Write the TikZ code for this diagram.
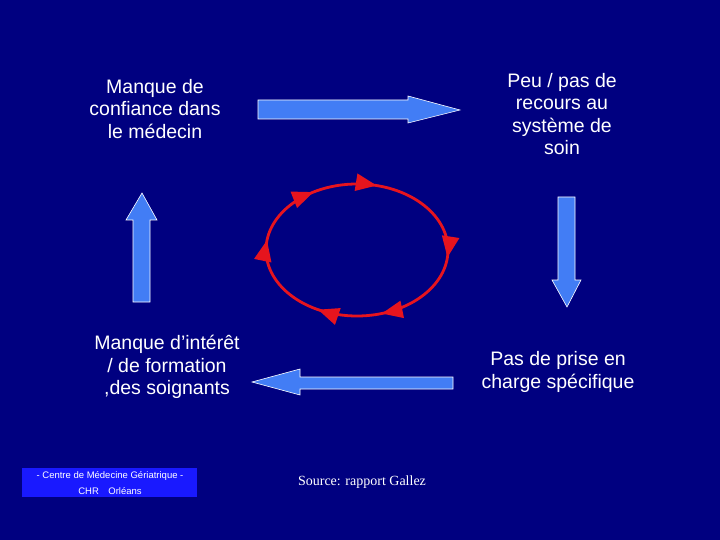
\documentclass[tikz,border=0pt]{standalone}
\usepackage{fontspec}
\setmainfont{Liberation Sans}
\newfontfamily\timesf{Liberation Serif}
\usetikzlibrary{decorations.markings,arrows.meta}
\definecolor{bg}{RGB}{0,0,128}
\definecolor{ab}{RGB}{66,125,245}
\definecolor{rd}{RGB}{230,20,30}
\begin{document}
\begin{tikzpicture}[x=1pt,y=-1pt,
  lbl/.style={text=white,align=center,font=\fontsize{19.5}{22.5}\selectfont},
  barrow/.style={fill=ab,draw=white,line width=0.6pt}]
\fill[bg] (0,0) rectangle (720,540);
\useasboundingbox (0,0) rectangle (720,540);
\node[lbl] (a) at (155,109) {Manque de\\confiance dans\\le médecin};
\node[lbl] (b) at (562,114) {Peu / pas de\\recours au\\système de\\soin};
\node[lbl] (c) at (167,367) {Manque d{\char39}intérêt\\/ de formation\\,des soignants};
\node[lbl] (d) at (558,372) {Pas de prise en\\charge spécifique};
\draw[barrow] (258,100) -- (408,100) -- (408,96) -- (460,110) -- (408,123) -- (408,119) -- (258,119) -- cycle;
\draw[barrow] (575,197) -- (575,280) -- (581,280) -- (567,307) -- (552,280) -- (558,280) -- (558,197) -- cycle;
\draw[barrow] (453,377) -- (300,377) -- (300,369) -- (252,382) -- (300,395) -- (300,389) -- (453,389) -- cycle;
\draw[barrow] (133,302) -- (133,220) -- (126,220) -- (142,193) -- (157,220) -- (150,220) -- (150,302) -- cycle;
\draw[rd,line width=2.8pt,postaction={decorate},decoration={markings,
  mark=at position 0.015 with {\arrow{Triangle[length=21pt,width=17pt]}},
  mark=at position 0.2 with {\arrow{Triangle[length=21pt,width=17pt]}},
  mark=at position 0.33 with {\arrow{Triangle[length=21pt,width=17pt]}},
  mark=at position 0.52 with {\arrow{Triangle[length=21pt,width=17pt]}},
  mark=at position 0.66 with {\arrow{Triangle[length=21pt,width=17pt]}},
  mark=at position 0.79 with {\arrow{Triangle[length=21pt,width=17pt]}}}]
  (357,250) ellipse [x radius=91, y radius=66];
\fill[blue!90!white] (22,468) rectangle (197,497);
\node[text=white,font=\fontsize{9.5}{15.5}\selectfont,align=center] (e) at (110,483) {- Centre de Médecine Gériatrique -\\CHR\quad Orléans};
\node[text=white,font=\timesf\fontsize{14}{16}\selectfont] (f) at (362,482) {Source: rapport Gallez};
\end{tikzpicture}
\end{document}
